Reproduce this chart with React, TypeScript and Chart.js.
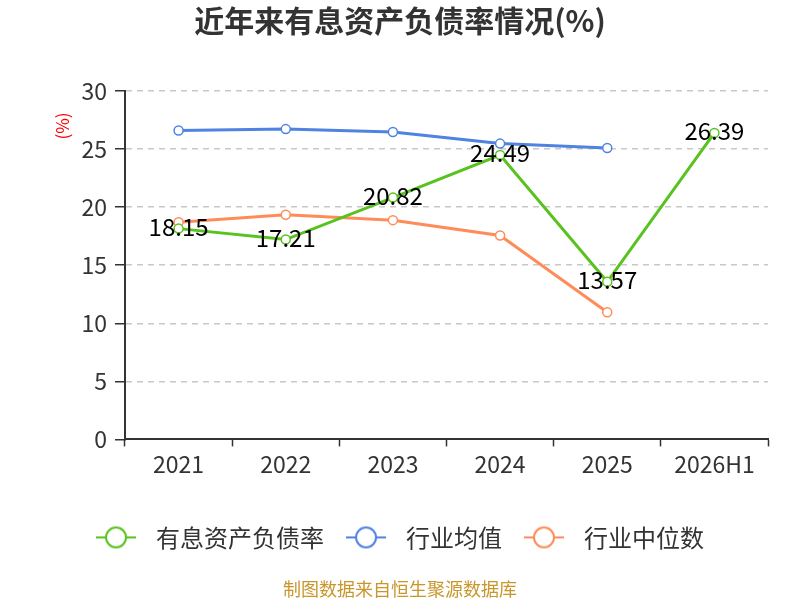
import { useEffect, useRef } from "react";
import { Chart, registerables } from "chart.js";
import type { Plugin } from "chart.js";

Chart.register(...registerables);

const FONT = "'Noto Sans CJK SC', 'Noto Sans', sans-serif";

const YEARS = ["2021", "2022", "2023", "2024", "2025", "2026H1"];
const DEBT_RATIO = [18.15, 17.21, 20.82, 24.49, 13.57, 26.39];
const INDUSTRY_AVG = [26.6, 26.72, 26.47, 25.47, 25.09, null];
const INDUSTRY_MEDIAN = [18.7, 19.34, 18.88, 17.56, 10.95, null];

const SERIES_NAMES = ["有息资产负债率", "行业均值", "行业中位数"];
const COLORS = ["#58c21e", "#4f83e2", "#ff8c58"];

const TITLE = "近年来有息资产负债率情况(%)";
const Y_UNIT = "(%)";
const SOURCE = "制图数据来自恒生聚源数据库";

function legendIcon(color: string) {
  const c = document.createElement("canvas");
  c.width = 48;
  c.height = 24;
  const ctx = c.getContext("2d")!;
  ctx.strokeStyle = color;
  ctx.lineWidth = 2;
  ctx.beginPath();
  ctx.moveTo(0, 12);
  ctx.lineTo(40, 12);
  ctx.stroke();
  ctx.beginPath();
  ctx.arc(20, 12, 10, 0, Math.PI * 2);
  ctx.fillStyle = "#fff";
  ctx.fill();
  ctx.stroke();
  return c;
}

// value labels on the first series + red unit label on the y axis
const extras: Plugin<"line"> = {
  id: "extras",
  afterDatasetsDraw(chart) {
    const { ctx } = chart;
    const meta = chart.getDatasetMeta(0);
    ctx.save();
    ctx.font = `24px ${FONT}`;
    ctx.fillStyle = "#000";
    ctx.textAlign = "center";
    ctx.textBaseline = "middle";
    meta.data.forEach((pt, i) => {
      ctx.fillText(DEBT_RATIO[i].toFixed(2), pt.x, pt.y - 2);
    });
    ctx.restore();
  },
  afterDraw(chart) {
    const { ctx, chartArea } = chart;
    ctx.save();
    ctx.translate(63, chartArea.top + 35);
    ctx.rotate(-Math.PI / 2);
    ctx.font = `17px ${FONT}`;
    ctx.fillStyle = "#ff0000";
    ctx.textAlign = "center";
    ctx.textBaseline = "middle";
    ctx.fillText(Y_UNIT, 0, 0);
    ctx.restore();
  },
};

export default function App() {
  const canvasRef = useRef<HTMLCanvasElement>(null);
  const chartRef = useRef<Chart | null>(null);

  useEffect(() => {
    document.body.style.margin = "0";
    if (!canvasRef.current) return;
    if (chartRef.current) chartRef.current.destroy();

    const series = [DEBT_RATIO, INDUSTRY_AVG, INDUSTRY_MEDIAN];
    const icons = COLORS.map(legendIcon);

    chartRef.current = new Chart(canvasRef.current, {
      type: "line",
      data: {
        labels: YEARS,
        datasets: series.map((data, i) => ({
          label: SERIES_NAMES[i],
          data,
          borderColor: COLORS[i],
          backgroundColor: "#fff",
          borderWidth: 3,
          pointRadius: 4.5,
          pointBorderWidth: 1.5,
          pointBackgroundColor: "#fff",
          pointBorderColor: COLORS[i],
          tension: 0,
          spanGaps: false,
        })),
      },
      plugins: [extras],
      options: {
        animation: false,
        responsive: true,
        maintainAspectRatio: false,
        layout: { padding: { left: 32, right: 32, bottom: 0 } },
        plugins: {
          tooltip: { enabled: false },
          title: {
            display: true,
            text: TITLE,
            color: "#333",
            font: { size: 30, weight: "bold", family: FONT },
            padding: { top: 3, bottom: 52 },
          },
          subtitle: {
            display: true,
            text: SOURCE,
            position: "bottom",
            color: "#c8962a",
            font: { size: 18, family: FONT },
            padding: { top: 19, bottom: 0 },
          },
          legend: {
            position: "bottom",
            labels: {
              usePointStyle: true,
              pointStyleWidth: 48,
              padding: 22,
              color: "#333",
              font: { size: 24, family: FONT },
              generateLabels: (chart) =>
                chart.data.datasets.map((ds, i) => ({
                  text: ds.label as string,
                  pointStyle: icons[i],
                  fillStyle: "#fff",
                  strokeStyle: COLORS[i],
                  lineWidth: 0,
                  hidden: false,
                  datasetIndex: i,
                  fontColor: "#333",
                })),
            },
          },
        },
        scales: {
          x: {
            offset: true,
            afterFit: (scale) => {
              scale.height = 64;
            },
            grid: {
              offset: true,
              drawOnChartArea: false,
              tickLength: 7,
              tickColor: "#333",
              tickWidth: 1.5,
            },
            border: { color: "#333", width: 2 },
            ticks: {
              color: "#333",
              padding: 4,
              font: { size: 23, family: FONT },
            },
          },
          y: {
            min: 0,
            max: 30,
            afterFit: (scale) => {
              scale.width = 93;
            },
            grid: {
              color: (ctx) => (ctx.tick && ctx.tick.value === 0 ? "rgba(0,0,0,0)" : "#c8c8c8"),
              lineWidth: 1.5,
              tickLength: 10,
              tickColor: "#333",
              tickWidth: 1.5,
              tickBorderDash: [],
            },
            border: { color: "#333", width: 2, dash: [6, 5] },
            ticks: {
              stepSize: 5,
              color: "#333",
              padding: 8,
              font: { size: 23, family: FONT },
            },
          },
        },
      },
    });

    return () => {
      chartRef.current?.destroy();
      chartRef.current = null;
    };
  }, []);

  return (
    <div style={{ width: 800, height: 600, position: "relative" }}>
      <canvas ref={canvasRef} />
    </div>
  );
}
